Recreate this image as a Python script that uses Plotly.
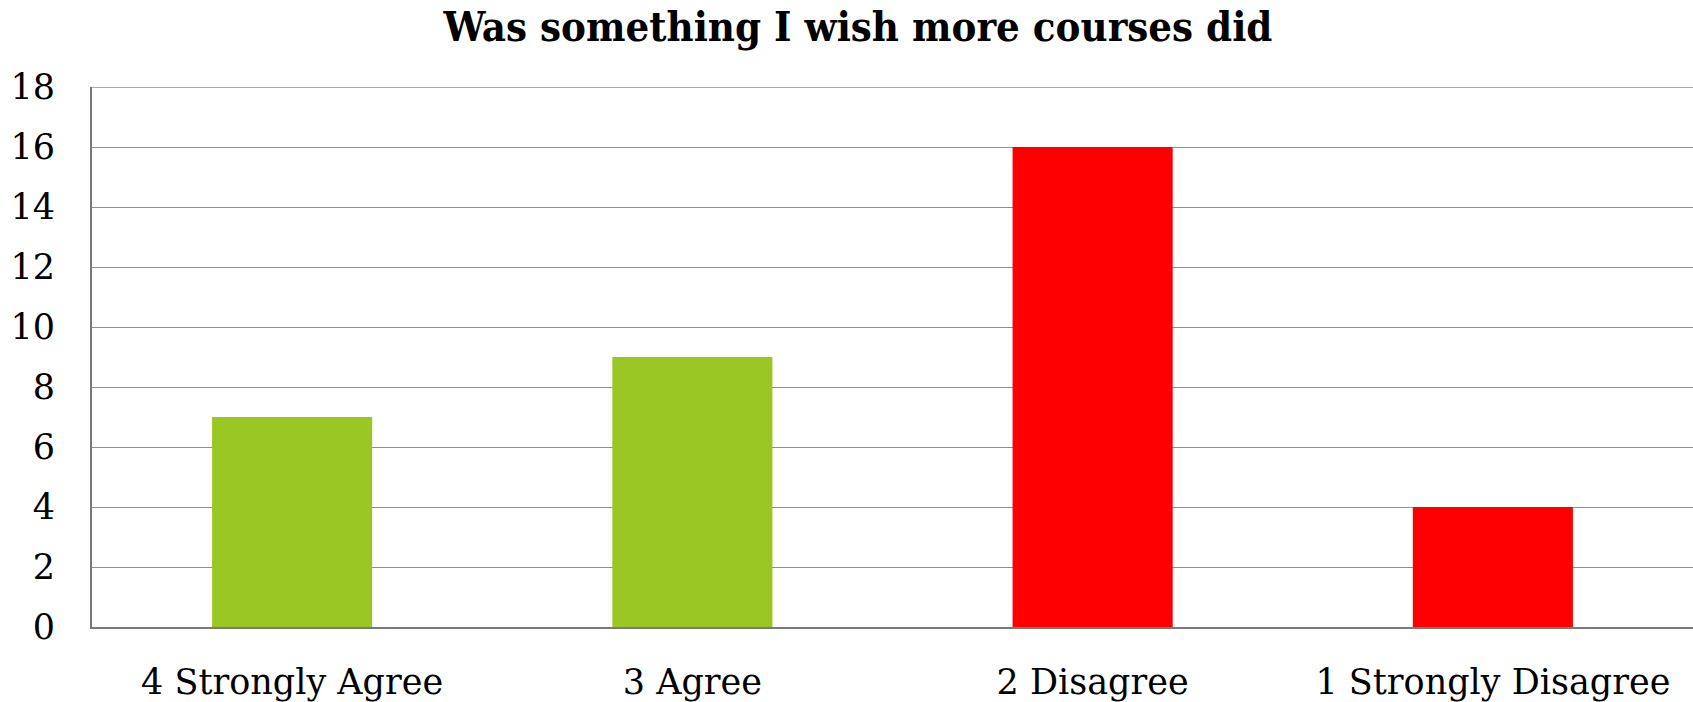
import plotly.graph_objects as go

categories = ["4 Strongly Agree", "3 Agree", "2 Disagree", "1 Strongly Disagree"]
counts = [7, 9, 16, 4]
bar_colors = ["#9AC724", "#9AC724", "#FF0000", "#FF0000"]
y_ticks = list(range(0, 19, 2))

W, H = 1693, 702
serif = "DejaVu Serif, Liberation Serif, serif"
grid_color = "#8F8F8F"

fig = go.Figure(
    go.Bar(
        x=categories,
        y=counts,
        marker=dict(color=bar_colors, line=dict(width=0)),
        width=0.4,
        hoverinfo="x+y",
    )
)

fig.update_layout(
    width=W,
    height=H,
    margin=dict(l=92, r=0, t=87, b=75, pad=0, autoexpand=False),
    paper_bgcolor="white",
    plot_bgcolor="white",
    showlegend=False,
    title=dict(
        text="<b>Was something I wish more courses did</b>",
        font=dict(family="DejaVu Serif Condensed, DejaVu Serif, serif", size=41.5, color="black"),
        xref="container",
        x=858 / W,
        xanchor="center",
        yref="container",
        y=1 - 26 / H,
        yanchor="middle",
    ),
    font=dict(family=serif, size=35, color="black"),
)

fig.update_yaxes(
    range=[0, max(y_ticks)],
    tickvals=y_ticks,
    ticktext=[str(v) for v in y_ticks],
    showgrid=True,
    gridcolor=grid_color,
    gridwidth=1.3,
    zeroline=False,
    showline=True,
    linecolor="#7A7A7A",
    linewidth=2,
    ticks="",
    ticklabelstandoff=28,
    automargin=False,
    tickfont=dict(family=serif, size=35, color="black"),
)

fig.update_xaxes(
    showgrid=False,
    zeroline=False,
    showline=True,
    linecolor="#7A7A7A",
    linewidth=2,
    ticks="",
    ticklabelstandoff=23,
    automargin=False,
    tickfont=dict(family=serif, size=35, color="black"),
)

# gridline at the top tick, which sits on the edge of the plot area
fig.add_shape(
    type="line",
    xref="paper",
    yref="y",
    x0=0,
    x1=1,
    y0=max(y_ticks),
    y1=max(y_ticks),
    line=dict(color=grid_color, width=1.3),
    layer="below",
)

fig.write_html("out.html")
